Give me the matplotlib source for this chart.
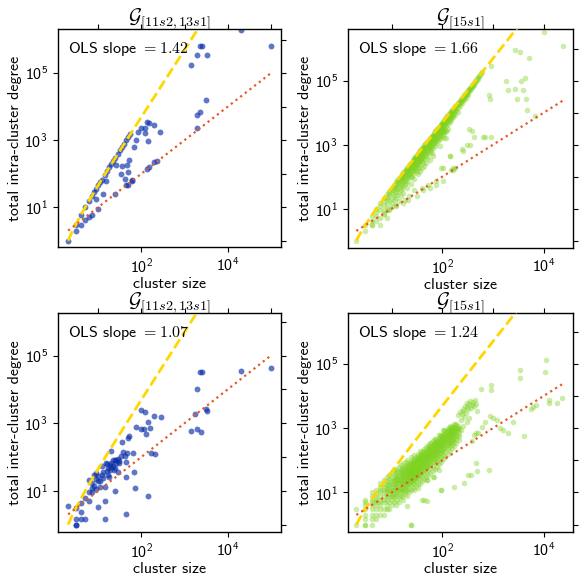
"""Cluster size vs. total intra/inter-cluster degree for two clusterings."""

import matplotlib

matplotlib.use("Agg")
import matplotlib.pyplot as plt  # noqa: E402
import numpy as np  # noqa: E402
from matplotlib.ticker import FixedLocator, LogFormatterSciNotation, NullFormatter  # noqa: E402

plt.rcParams["font.family"] = ["cmss10", "DejaVu Sans"]
plt.rcParams["mathtext.fontset"] = "cm"
plt.rcParams["axes.formatter.use_mathtext"] = True

BLUE = "#0a2ea8"
GREEN = "#7ed321"
GOLD = "#FFD700"
ORANGE = "#e45a28"

# ---- [11s2,13s1] clustering: (cluster size, total intra-cluster degree)
tl_points = [
    (2, 1), (3, 3), (4, 6), (5, 10), (6, 15), (7, 21), (8, 28), (9, 36), (10, 45),
    (11, 55), (12, 66), (14, 91), (16, 120), (18, 153), (20, 190), (22, 231),
    (25, 300), (28, 378), (32, 496), (36, 630), (40, 780), (45, 990), (50, 1225),
    (55, 1485), (3, 2), (4, 3), (5, 4), (6, 5), (7, 6), (10, 9), (9, 17), (13, 24),
    (15, 62), (25, 25), (26, 180), (34, 95), (36, 170), (42, 70), (44, 46), (46, 180),
    (48, 110), (50, 45), (52, 250), (60, 62), (62, 64), (69, 640), (76, 1000),
    (83, 1800), (100, 2250), (118, 2250), (120, 1600), (135, 3500), (150, 3200),
    (140, 920), (195, 2900), (275, 1800), (138, 134), (150, 160), (200, 218),
    (230, 237), (1980, 2340), (1950, 5600), (2300, 7000), (3100, 15600),
    (1380, 174000), (1900, 345000), (2300, 640000), (2500, 640000), (3400, 345000),
    (20400, 2.0e6), (100000, 640000),
]

# ---- [11s2,13s1] clustering: (cluster size, total inter-cluster degree)
bl_points = [
    (2, 3.6), (3, 1), (3, 1), (3, 1.5), (3, 3), (4, 2.4), (4, 1.5), (4, 4.3),
    (5, 1.5), (5, 6), (6, 5), (6, 9), (6, 21), (7, 12), (7, 17), (8, 30), (9, 33),
    (10, 19), (10, 27), (11, 13), (9, 11), (10, 3.4), (14, 1.5), (14, 5), (14, 13),
    (15, 66), (16, 38), (17, 30), (19, 42), (20, 150), (20, 65), (22, 83), (24, 80),
    (25, 47), (26, 65), (25, 10), (28, 37), (30, 65), (36, 270), (38, 145),
    (41, 105), (43, 70), (45, 25), (45, 2), (47, 130), (50, 365), (52, 410),
    (65, 130), (67, 37), (70, 12), (75, 760), (97, 690), (115, 690), (100, 2400),
    (120, 2200), (130, 490), (140, 1100), (155, 700), (140, 7), (170, 130),
    (200, 1600), (210, 125), (280, 1500), (1380, 570), (1980, 680), (2350, 560),
    (1740, 1900), (1980, 10300), (2300, 32000), (2600, 32000), (3200, 2600),
    (3400, 2300), (20400, 35000), (100000, 43000), (12, 53), (13, 24), (17, 47),
    (19, 58), (22, 53), (26, 83), (31, 74), (33, 105), (20, 50), (11, 20), (8, 14),
    (7, 9), (12, 30), (9, 22), (13, 35), (16, 60), (18, 25), (23, 40), (28, 90),
]

# ---- [15s1] clustering, intra-cluster degree: main band by size column
tr_cols = [2, 3, 4, 5, 6, 7, 8, 9, 10, 11, 12, 13, 14, 15, 16, 17, 18, 19, 20, 22,
           24, 26, 28, 30, 33, 36, 40, 44, 48, 52, 56, 60, 65, 70, 76, 82, 89, 96,
           103, 110, 120, 130, 140, 150, 165, 180, 200, 220, 240, 265, 290, 320,
           350, 380, 420, 460, 510, 560, 620,
           21, 23, 25, 27, 29, 31, 32, 34, 35, 37, 38, 39, 42, 46, 50, 54, 58, 62,
           68, 73, 79, 85, 92, 99, 106, 115, 125, 135, 145, 157, 172, 190, 210,
           230, 252, 278, 305, 335, 365, 400, 440, 485, 535, 590]
tr_col_degrees = [
    [1], [3, 2], [6, 4, 3], [10, 8, 6, 4], [15, 12, 9, 5], [21, 17, 13, 9, 7],
    [28, 23, 18, 13, 9], [36, 30, 24, 17, 10], [45, 38, 30, 22, 15, 11],
    [55, 46, 37, 27, 18], [66, 56, 45, 33, 22, 13], [78, 66, 53, 40, 27],
    [91, 78, 62, 47, 32, 17], [105, 90, 72, 55, 38, 24], [120, 103, 83, 63, 44],
    [136, 116, 94, 72, 50, 30], [153, 131, 106, 81, 57, 19], [171, 146, 118, 90, 64],
    [190, 163, 132, 101, 72, 45], [231, 198, 160, 122, 88, 24],
    [276, 236, 191, 146, 105, 60], [325, 278, 225, 172, 124],
    [378, 323, 262, 200, 145, 85, 39], [435, 372, 301, 230, 167],
    [528, 452, 366, 280, 203, 120], [630, 540, 437, 334, 242, 150],
    [780, 668, 541, 413, 300, 180, 44], [946, 810, 656, 501, 363, 220],
    [1128, 966, 782, 598, 433, 260], [1326, 1135, 919, 703, 509, 56],
    [1540, 1318, 1068, 816, 591, 330], [1770, 1515, 1227, 938, 680],
    [2080, 1780, 1442, 1102, 800, 450], [2415, 2067, 1674, 1280, 930],
    [2850, 2440, 1975, 1510, 1090, 71], [3321, 2843, 2302, 1760, 1270],
    [3916, 3352, 2714, 2075, 1500, 890], [4560, 3900, 3160, 2420, 1750],
    [5253, 4500, 3640, 2785, 2000, 190], [5995, 5130, 4155, 3180, 2300],
    [7140, 6110, 4950, 3780, 2600, 1600], [8385, 7180, 5810, 4440, 3200],
    [9730, 8330, 6740, 5160, 430], [11175, 9570, 7750, 5920],
    [13530, 11580, 9380, 7170, 165, 187], [16110, 13790, 11170, 8540],
    [19900, 17040, 13800, 10550], [24090, 20620, 16700], [28680, 24550, 19880],
    [34980, 29950, 24250], [41900, 35870, 29050], [51040, 43700, 35380],
    [61080, 52290], [72010, 61640], [87990, 75320], [105570, 90370],
    [129800, 111100], [156520], [191890],
    [205, 175, 140, 105], [250, 210, 170, 125], [295, 250, 200, 150, 95],
    [345, 290, 235, 175], [400, 340, 270, 205], [460, 390, 310, 235, 140],
    [490, 415, 330, 250], [555, 470, 375, 280], [590, 500, 400, 300, 190],
    [660, 560, 445, 335], [695, 590, 470, 350], [735, 620, 495, 370],
    [850, 720, 575, 430, 260], [1025, 870, 690, 520], [1210, 1030, 820, 610, 380],
    [1420, 1200, 955, 715], [1640, 1390, 1100, 830], [1870, 1590, 1260, 945, 560],
    [2250, 1910, 1520, 1140], [2600, 2210, 1750, 1310], [3050, 2590, 2050, 1540],
    [3530, 3000, 2380, 1780], [4140, 3520, 2790, 2090], [4800, 4080, 3230, 2430],
    [5500, 4680, 3710, 2780], [6490, 5510, 4370], [7670, 6510, 5170],
    [8950, 7600, 6030], [10330, 8770, 6960], [12120, 10290, 8160],
    [14560, 12350, 9800], [17770, 15080, 11970], [21720, 18430], [26070, 22120],
    [31310, 26570], [38120, 32340], [45900, 38940], [55380, 47000],
    [65770, 55800], [79000, 67030], [95610], [116200], [141420], [172000],
]
tr_extra = [
    (930, 280000), (830, 36000), (860, 26000), (1780, 100000), (2700, 900000),
    (3400, 780000), (5100, 510000), (2000, 50000), (2700, 55000), (3900, 50000),
    (3500, 95000), (4200, 120000), (3000, 26000), (4500, 26000), (4700, 12500),
    (6600, 8000), (10000, 3.3e6), (24000, 1.2e6), (390, 2600), (340, 3100),
    (420, 1800), (300, 1000), (350, 950), (630, 1730), (680, 1800), (930, 1800),
    (144, 430), (240, 730), (255, 620), (4, 3), (6, 3), (7, 7), (8, 5), (9, 9),
    (12, 12), (17, 15), (21, 19), (31, 24), (42, 39), (56, 44), (76, 56),
    (103, 71), (150, 165), (175, 187), (120, 2600), (110, 1600), (95, 190),
]

# ---- [15s1] clustering, inter-cluster degree: cloud by size column
br_cols = [2, 3, 4, 5, 6, 7, 8, 9, 10, 11, 12, 13, 14, 15, 16, 17, 18, 19, 20, 22,
           24, 26, 28, 30, 33, 36, 40, 44, 48, 50, 53, 58, 64, 70, 77, 85, 95, 105,
           115, 128, 140, 155, 167, 170, 190, 210,
           21, 23, 25, 27, 29, 31, 32, 34, 35, 38, 42, 46, 51, 56, 61, 67, 73, 80,
           88, 100, 110, 122, 135, 150, 160, 180, 200]
br_col_degrees = [
    [1, 3], [1, 1, 1.5, 2, 3, 4, 5, 6], [1, 1.5, 2, 3, 4, 5, 6, 8, 10],
    [1.5, 2, 3, 4, 5, 6, 7, 9, 12], [2, 3, 4, 5, 6, 8, 10, 12, 15, 20],
    [2, 3, 5, 6, 8, 10, 12, 15, 18, 25], [3, 4, 6, 8, 10, 12, 14, 17, 22, 30],
    [3, 5, 7, 9, 11, 14, 17, 20, 26, 35], [4, 6, 8, 10, 12, 15, 18, 22, 28, 40],
    [5, 7, 9, 12, 15, 18, 22, 27, 35, 50], [4, 8, 10, 13, 16, 20, 25, 30, 40, 55],
    [6, 9, 12, 15, 19, 24, 29, 36, 45], [5, 8, 11, 14, 18, 22, 27, 33, 42, 60],
    [7, 10, 13, 17, 21, 26, 32, 40, 50, 70], [8, 12, 15, 19, 24, 30, 37, 46, 58],
    [6, 10, 14, 18, 23, 28, 35, 43, 55, 80], [9, 13, 17, 21, 27, 33, 41, 52, 65],
    [11, 15, 20, 25, 31, 38, 48, 60, 90], [8, 12, 17, 22, 28, 35, 44, 55, 70, 100],
    [10, 14, 19, 25, 32, 40, 50, 63, 80],
    [1, 12, 17, 23, 30, 38, 47, 60, 75, 95, 130],
    [14, 20, 27, 35, 44, 55, 68, 85, 110],
    [12, 18, 25, 33, 42, 53, 66, 83, 105, 150],
    [16, 22, 30, 39, 50, 62, 78, 98, 125],
    [14, 20, 28, 37, 48, 60, 75, 95, 120, 160],
    [18, 26, 35, 46, 58, 73, 92, 115, 150, 200],
    [6, 22, 32, 43, 55, 70, 88, 110, 140, 180],
    [26, 38, 50, 65, 82, 105, 130, 165, 220],
    [30, 44, 58, 75, 95, 120, 150, 190, 250], [5.6, 25, 60],
    [35, 50, 67, 86, 110, 140, 175, 220, 300],
    [40, 58, 78, 100, 128, 160, 200, 260, 340],
    [30, 48, 68, 90, 115, 148, 185, 235, 300, 400],
    [55, 80, 105, 135, 170, 215, 270, 350, 460],
    [62, 90, 120, 155, 195, 250, 320, 410],
    [50, 75, 105, 140, 180, 230, 290, 370, 480, 620],
    [12, 90, 125, 165, 210, 270, 340, 430, 560],
    [110, 150, 200, 255, 325, 410, 520, 680, 900],
    [130, 180, 240, 310, 390, 490, 620, 800],
    [160, 220, 290, 370, 470, 600, 760, 1000],
    [200, 270, 350, 450, 570, 720, 900, 1150],
    [240, 320, 420, 540, 680, 860, 1100], [15],
    [280, 380, 500, 650, 820, 1050, 1350], [350, 470, 620, 800, 1000, 1300],
    [420, 560, 750, 980],
    [18, 25, 30, 35, 42, 50, 65], [21, 29, 35, 41, 49, 58, 75],
    [24, 33, 40, 47, 56, 67, 85], [27, 37, 45, 53, 63, 75, 95],
    [30, 41, 50, 58, 70, 83], [33, 46, 55, 65, 78, 93, 120],
    [35, 49, 59, 69, 83, 100], [38, 52, 63, 74, 89, 106, 135],
    [40, 55, 66, 78, 93, 112], [45, 63, 75, 89, 106, 127, 160],
    [53, 73, 87, 103, 123, 147, 190], [60, 85, 100, 120, 143, 170],
    [72, 100, 118, 141, 168, 200, 260], [85, 117, 140, 166, 198, 235],
    [97, 134, 160, 190, 227, 270, 350], [112, 155, 185, 220, 262, 312],
    [126, 175, 208, 247, 295, 350, 450], [145, 200, 238, 283, 338, 400],
    [170, 234, 279, 331, 395, 470, 600], [210, 290, 345, 410, 490, 580],
    [240, 332, 396, 470, 560, 670, 850], [285, 395, 470, 560, 668, 795],
    [340, 467, 556, 660, 790, 940], [400, 550, 655, 780, 930, 1110],
    [440, 600, 715, 850, 1015], [530, 735, 875, 1040, 1240], [615, 850, 1010, 1200],
]
br_extra = [
    (200, 2500), (220, 3200), (240, 2800), (250, 4000), (260, 3500), (280, 5000),
    (290, 3000), (300, 4500), (310, 6000), (320, 3800), (330, 5500), (350, 7000),
    (360, 4200), (380, 5200), (400, 6500), (420, 4800), (440, 7500), (460, 5800),
    (480, 3500), (230, 1800), (270, 2200), (300, 1500), (340, 2000), (260, 1200),
    (230, 900), (590, 17000), (930, 22000), (930, 15500), (3400, 65000),
    (3400, 37000), (11000, 130000), (10700, 54000), (23000, 8500), (13000, 6000),
    (18000, 6000), (12500, 7500), (6200, 4700), (5500, 4000), (7000, 5200),
    (4100, 550), (2000, 690), (1600, 880), (1350, 1000), (860, 2300), (840, 50),
    (470, 81), (480, 45), (320, 35), (370, 35), (265, 20), (95, 12), (43, 5.9),
    (49, 25), (67, 31), (24, 1), (20, 3.7), (10, 7.5), (700, 1500), (1000, 2000),
    (600, 1100), (500, 700), (430, 600), (380, 400), (1200, 1800), (2500, 1500),
    (470, 690),
]

PANELS = [
    # key, color, alpha, ylabel, subscript, slope, axes rect, ylim / xlim (log10)
    ("tl", BLUE, 0.65, "total intra-cluster degree", "11s2,13s1", 1.42,
     [0.0998, 0.5756, 0.3838, 0.3746], (-0.19, 6.32), (0.066, 5.235)),
    ("tr", GREEN, 0.4, "total intra-cluster degree", "15s1", 1.66,
     [0.5990, 0.5735, 0.3864, 0.3761], (-0.24, 6.61), (0.137, 4.57)),
    ("bl", BLUE, 0.65, "total inter-cluster degree", "11s2,13s1", 1.07,
     [0.0998, 0.0859, 0.3838, 0.3763], (-0.22, 6.26), (0.066, 5.235)),
    ("br", GREEN, 0.4, "total inter-cluster degree", "15s1", 1.24,
     [0.5990, 0.0859, 0.3864, 0.3763], (-0.23, 6.58), (0.137, 4.57)),
]


def unzip(points):
    return np.array([p[0] for p in points], float), np.array([p[1] for p in points], float)


def expand(cols, col_degrees, extra):
    sizes, degrees = [], []
    for size, degs in zip(cols, col_degrees):
        sizes += [size] * len(degs)
        degrees += degs
    sizes += [p[0] for p in extra]
    degrees += [p[1] for p in extra]
    return np.array(sizes, float), np.array(degrees, float)


def main() -> None:
    fig = plt.figure(figsize=(5.81, 5.82), dpi=100)
    data = {
        "tl": unzip(tl_points),
        "bl": unzip(bl_points),
        "tr": expand(tr_cols, tr_col_degrees, tr_extra),
        "br": expand(br_cols, br_col_degrees, br_extra),
    }
    for key, color, alpha, ylabel, sub, slope, rect, ylim, xlim in PANELS:
        ax = fig.add_axes(rect)
        size, degree = data[key]
        s = 18 if color == BLUE else 16
        ax.scatter(size, degree, s=s, color=color, alpha=alpha, linewidths=0, zorder=2)
        xs = np.geomspace(size.min(), size.max(), 300)
        ax.plot(xs, xs * (xs - 1) / 2, "--", color=GOLD, lw=2.0, zorder=3)
        ax.plot(xs, xs, ":", color=ORANGE, lw=1.6, zorder=3)
        ax.set_xscale("log")
        ax.set_yscale("log")
        ax.set_xlim(10 ** xlim[0], 10 ** xlim[1])
        ax.set_ylim(10 ** ylim[0], 10 ** ylim[1])

        ax.xaxis.set_major_locator(FixedLocator([1e2, 1e4]))
        ax.xaxis.set_minor_locator(FixedLocator([10.0 ** k for k in range(0, 6)]))
        ax.yaxis.set_major_locator(FixedLocator([1e1, 1e3, 1e5]))
        ax.yaxis.set_minor_locator(FixedLocator([10.0 ** k for k in range(0, 7)]))
        ax.xaxis.set_major_formatter(LogFormatterSciNotation())
        ax.yaxis.set_major_formatter(LogFormatterSciNotation())
        ax.xaxis.set_minor_formatter(NullFormatter())
        ax.yaxis.set_minor_formatter(NullFormatter())
        ax.tick_params(which="major", direction="out", length=3.5, width=0.8,
                       top=True, right=True, labelsize=11.5)
        ax.tick_params(which="minor", direction="out", length=3.5, width=0.8,
                       top=True, right=True, bottom=False, left=False)
        for spine in ax.spines.values():
            spine.set_linewidth(1.0)

        ax.set_xlabel("cluster size", fontsize=11.5, labelpad=1)
        ax.set_ylabel(ylabel, fontsize=11.5, labelpad=2)
        ax.set_title(r"$\mathcal{G}_{[%s]}$" % sub, fontsize=14.5, pad=4)
        ax.text(0.045, 0.95, "OLS slope $= %.2f$" % slope, transform=ax.transAxes,
                ha="left", va="top", fontsize=11.5)

    fig.savefig("out.png", dpi=100)


if __name__ == "__main__":
    main()
